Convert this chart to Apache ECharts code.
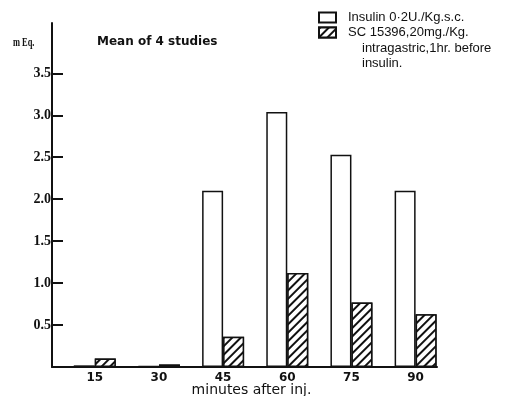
<!DOCTYPE html>
<html>
<head>
<meta charset="utf-8">
<script src="https://cdn.jsdelivr.net/npm/echarts@6/dist/echarts.min.js"></script>
<style>
  html, body { margin: 0; padding: 0; background: #fff; }
  #chart { width: 506px; height: 396px; }
</style>
</head>
<body>
<div id="chart"></div>
<script>
// minutes after injection
const minutes = [15, 30, 45, 60, 75, 90];
// mEq
const insulin = [0.02, 0.01, 2.1, 3.04, 2.53, 2.1];
const sc15396 = [0.1, 0.03, 0.36, 1.12, 0.77, 0.63];
const yTicks = [0.5, 1.0, 1.5, 2.0, 2.5, 3.0, 3.5];

const nameA = 'Insulin 0·2U./Kg.s.c.';
const nameB = 'SC 15396,20mg./Kg.';

const chart = echarts.init(document.getElementById('chart'));

const hatch = {
  symbol: 'rect',
  symbolSize: 1,
  color: '#111',
  backgroundColor: '#fff',
  dashArrayX: [1, 0],
  dashArrayY: [2, 4],
  rotation: -Math.PI / 4
};

chart.setOption({
  animation: false,
  backgroundColor: '#fff',
  title: [
    {
      text: 'Mean of 4 studies', left: 92, top: 31,
      textStyle: { fontFamily: 'DejaVu Sans', fontWeight: 'bold', fontSize: 12, color: '#111' }
    },
    {
      text: 'intragastric,1hr. before\ninsulin.', left: 357, top: 36,
      textStyle: { fontFamily: 'Liberation Sans', fontWeight: 'normal', fontSize: 13, lineHeight: 15, color: '#111' }
    }
  ],
  graphic: [{
    type: 'text', left: 13, top: 37, scaleX: 0.7,
    style: { text: 'm Eq.', font: 'bold 12px "Liberation Serif"', fill: '#111' }
  }],
  legend: {
    orient: 'vertical',
    left: 313, top: 5,
    itemWidth: 17, itemHeight: 10, itemGap: 0,
    icon: 'rect',
    selectedMode: false,
    textStyle: { fontFamily: 'Liberation Sans', fontSize: 13, lineHeight: 15, color: '#111', padding: [0, 0, 0, 7] },
    data: [nameA, nameB]
  },
  grid: { left: 52, right: 69, top: 23, bottom: 29, outerBoundsMode: 'none' },
  xAxis: {
    type: 'value',
    min: 5, max: 95,
    splitLine: { show: false },
    axisLine: { lineStyle: { color: '#111', width: 2 } },
    axisTick: { show: false },
    axisLabel: {
      customValues: minutes,
      margin: 5,
      color: '#111', fontFamily: 'DejaVu Sans', fontWeight: 'bold', fontSize: 12
    },
    name: 'minutes after inj.',
    nameLocation: 'middle',
    nameGap: 16,
    nameMoveOverlap: false,
    nameTextStyle: { fontFamily: 'DejaVu Sans', fontSize: 14, color: '#111', padding: [0, 0, 0, 14] }
  },
  yAxis: {
    type: 'value',
    min: 0, max: 4.1,
    splitLine: { show: false },
    axisLine: { show: true, lineStyle: { color: '#111', width: 2 } },
    axisTick: { show: true, inside: true, length: 11, customValues: yTicks, lineStyle: { color: '#111', width: 2 } },
    axisLabel: {
      customValues: yTicks,
      margin: 1,
      formatter: v => v.toFixed(1),
      color: '#111', fontFamily: 'Liberation Serif', fontWeight: 'bold', fontSize: 14
    }
  },
  series: [
    {
      name: nameA, type: 'bar', barWidth: 21, barGap: '0%',
      itemStyle: { color: '#fff', borderColor: '#111', borderWidth: 1.5 },
      data: minutes.map((m, i) => [m, insulin[i]])
    },
    {
      name: nameB, type: 'bar', barWidth: 21, barGap: '0%',
      itemStyle: { color: '#fff', borderColor: '#111', borderWidth: 1.5, decal: hatch },
      data: minutes.map((m, i) => [m, sc15396[i]])
    }
  ]
});
</script>
</body>
</html>
